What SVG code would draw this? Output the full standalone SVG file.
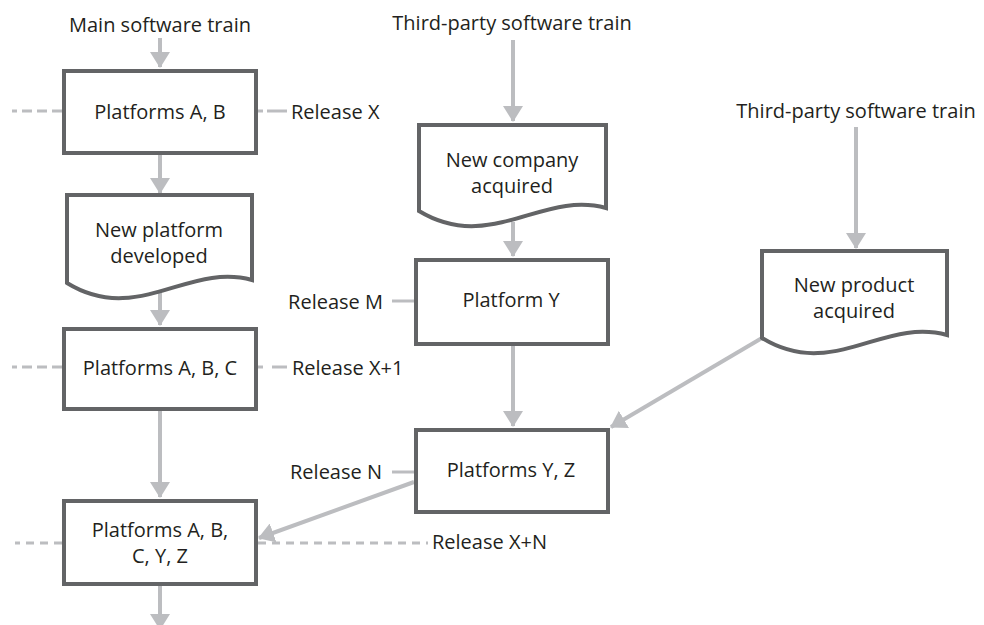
<svg xmlns="http://www.w3.org/2000/svg" width="984" height="625" viewBox="0 0 984 625">
<defs>
<style>
.t{font-family:"Open Sans","Liberation Sans",sans-serif;font-size:20px;font-weight:500;fill:#231f20}
.m{text-anchor:middle}
.e{text-anchor:end}
.box{fill:#fff;stroke:#636466;stroke-width:4}
.c{fill:none;stroke:#bcbdc0;stroke-width:4}
.r{fill:none;stroke:#bcbdc0;stroke-width:3}
.d1{stroke-dasharray:10 5}
.d2{stroke-dasharray:8 6}
</style>
<marker id="ah" viewBox="0 0 16 20" refX="15" refY="10" markerWidth="16" markerHeight="20" markerUnits="userSpaceOnUse" orient="auto">
<path d="M0,0 L16,10 L0,20 Z" fill="#bcbdc0"/>
</marker>
</defs>
<rect width="984" height="625" fill="#fff"/>

<g id="connectors">
<line class="c" x1="160" y1="38" x2="160" y2="67" marker-end="url(#ah)"/>
<line class="c" x1="160" y1="155" x2="160" y2="193" marker-end="url(#ah)"/>
<line class="c" x1="160" y1="288" x2="160" y2="325" marker-end="url(#ah)"/>
<line class="c" x1="160" y1="411" x2="160" y2="497" marker-end="url(#ah)"/>
<line class="c" x1="160" y1="586" x2="160" y2="629" marker-end="url(#ah)"/>
<line class="c" x1="513" y1="40" x2="513" y2="121" marker-end="url(#ah)"/>
<line class="c" x1="513" y1="222" x2="513" y2="256" marker-end="url(#ah)"/>
<line class="c" x1="513" y1="346" x2="513" y2="426" marker-end="url(#ah)"/>
<line class="c" x1="856" y1="127" x2="856" y2="248" marker-end="url(#ah)"/>
<line class="c" x1="762" y1="338" x2="611" y2="427" marker-end="url(#ah)"/>
<line class="c" x1="414" y1="482" x2="259" y2="538" marker-end="url(#ah)"/>
<line class="r d1" x1="62" y1="111" x2="12" y2="111"/>
<line class="r" x1="256" y1="111" x2="263" y2="111"/>
<line class="r" x1="267" y1="111" x2="287" y2="111"/>
<line class="r d1" x1="62" y1="367" x2="12" y2="367"/>
<line class="r" x1="256" y1="367" x2="263" y2="367"/>
<line class="r" x1="272" y1="367" x2="287" y2="367"/>
<line class="r d2" x1="62" y1="543" x2="15" y2="543"/>
<line class="r d2" x1="258" y1="543" x2="428" y2="543"/>
<line class="r" x1="392" y1="301" x2="414" y2="301"/>
<line class="r" x1="392" y1="472" x2="414" y2="472"/>
</g>

<g id="lbl-main"><text class="t m" x="160" y="32">Main software train</text></g>
<g id="lbl-third1"><text class="t m" x="512" y="30">Third-party software train</text></g>
<g id="lbl-third2"><text class="t m" x="856" y="118">Third-party software train</text></g>

<g id="n-ab">
<rect class="box" x="64" y="71" width="192" height="82"/>
<text class="t m" x="160" y="119">Platforms A, B</text>
</g>
<g id="rel-x"><text class="t" x="291" y="119">Release X</text></g>

<g id="n-newplatform">
<path class="box" d="M67,195 H252 V280 C188,262 137,326 67,283 Z"/>
<text class="t m" x="159" y="237">New platform</text>
<text class="t m" x="159" y="263">developed</text>
</g>

<g id="n-abc">
<rect class="box" x="64" y="329" width="192" height="80"/>
<text class="t m" x="160" y="375">Platforms A, B, C</text>
</g>
<g id="rel-x1"><text class="t" x="292" y="375">Release X+1</text></g>

<g id="n-abcyz">
<rect class="box" x="64" y="501" width="192" height="83"/>
<text class="t m" x="160" y="537">Platforms A, B,</text>
<text class="t m" x="160" y="563">C, Y, Z</text>
</g>
<g id="rel-xn"><text class="t" x="432" y="549">Release X+N</text></g>

<g id="n-newcompany">
<path class="box" d="M419,125 H606 V208 C542,190 490,254 419,211 Z"/>
<text class="t m" x="512" y="167">New company</text>
<text class="t m" x="512" y="193">acquired</text>
</g>

<g id="n-y">
<rect class="box" x="416" y="260" width="192" height="84"/>
<text class="t m" x="511" y="307">Platform Y</text>
</g>
<g id="rel-m"><text class="t e" x="383" y="309">Release M</text></g>

<g id="n-yz">
<rect class="box" x="416" y="430" width="192" height="82"/>
<text class="t m" x="511" y="477">Platforms Y, Z</text>
</g>
<g id="rel-n"><text class="t e" x="382" y="479">Release N</text></g>

<g id="n-newproduct">
<path class="box" d="M762,251 H947 V335 C883,317 832,381 762,338 Z"/>
<text class="t m" x="854" y="292">New product</text>
<text class="t m" x="854" y="318">acquired</text>
</g>
</svg>
